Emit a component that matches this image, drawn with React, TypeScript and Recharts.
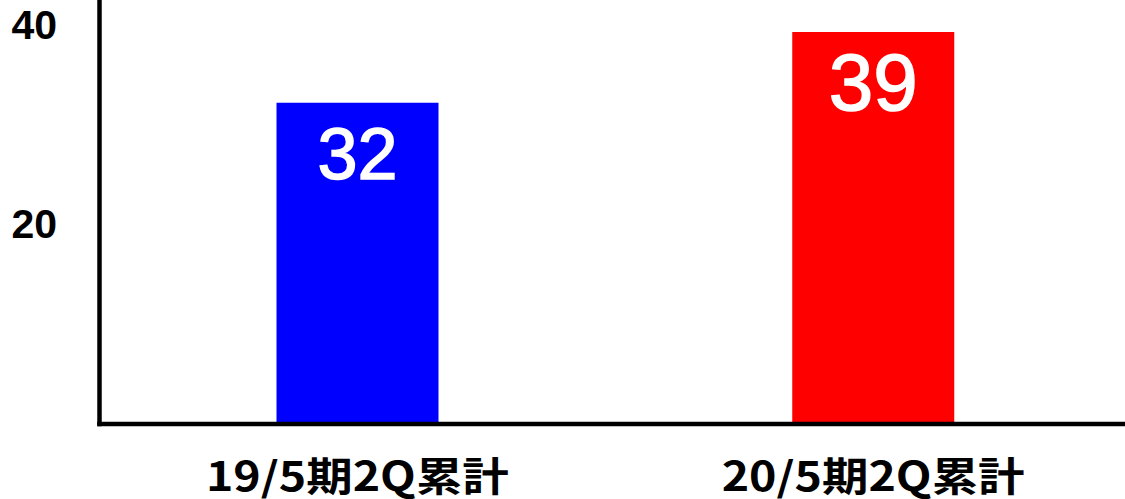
import { BarChart, Bar, Cell, XAxis, YAxis, LabelList } from "recharts";

const CATEGORIES = ["19/5期2Q累計", "20/5期2Q累計"];
const VALUES = [32.2, 39.3];
const VALUE_LABELS = ["32", "39"];
const BAR_COLORS = ["#0000ff", "#ff0000"];
const Y_TICKS = [20, 40];

const data = CATEGORIES.map((name, i) => ({
    name,
    value: VALUES[i],
    label: VALUE_LABELS[i],
}));

const XTick = (props: any) => {
    const { x, y, payload } = props;
    return (
        <text
            x={x}
            y={y + 50}
            textAnchor="middle"
            dominantBaseline="central"
            fontFamily="'Noto Sans CJK JP', sans-serif"
            fontWeight="bold"
            fontSize={40}
            fill="#000"
            textLength={303}
            lengthAdjust="spacingAndGlyphs"
        >
            {payload.value}
        </text>
    );
};

const YTick = (props: any) => {
    const { y, payload } = props;
    return (
        <text
            x={57}
            y={y}
            textAnchor="end"
            dominantBaseline="central"
            fontFamily="'Liberation Sans', Arial, sans-serif"
            fontWeight="bold"
            fontSize={41}
            fill="#000"
        >
            {payload.value}
        </text>
    );
};

// bar value labels, the later one is drawn a bit larger
const renderValueLabel = (props: any) => {
    const { x, y, width, index } = props;
    return (
        <text
            x={x + width / 2}
            y={y + 51}
            textAnchor="middle"
            dominantBaseline="central"
            fontFamily="'Liberation Sans', Arial, sans-serif"
            fontSize={index === 1 ? 80 : 72}
            fill="#fff"
            stroke="#fff"
            strokeWidth={1.5}
        >
            {VALUE_LABELS[index]}
        </text>
    );
};

export default function App() {
    return (
        <div style={{ position: "absolute", left: 0, top: 0, background: "#fff" }}>
            <BarChart
                width={1125}
                height={499}
                data={data}
                margin={{ top: 0, right: -6, left: 0, bottom: 0 }}
                barSize={162}
            >
                <XAxis
                    dataKey="name"
                    height={75}
                    interval={0}
                    tickLine={false}
                    tickSize={0}
                    tickMargin={0}
                    tick={<XTick />}
                    axisLine={{ stroke: "#000", strokeWidth: 4.5, strokeLinecap: "square" }}
                />
                <YAxis
                    type="number"
                    domain={[0, 42.5]}
                    ticks={Y_TICKS}
                    width={99.5}
                    tickLine={false}
                    tick={<YTick />}
                    axisLine={{ stroke: "#000", strokeWidth: 4.5, strokeLinecap: "square" }}
                />
                <Bar dataKey="value" isAnimationActive={false}>
                    {data.map((d, i) => (
                        <Cell key={`cell-${i}`} fill={BAR_COLORS[i]} />
                    ))}
                    <LabelList dataKey="label" content={renderValueLabel} />
                </Bar>
            </BarChart>
        </div>
    );
}
